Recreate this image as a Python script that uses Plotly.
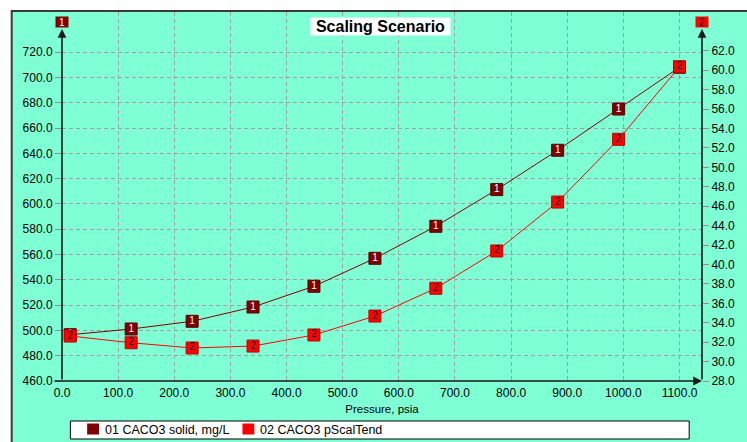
import plotly.graph_objects as go

# Pressure steps (psia) and the two computed series
pressure = [14.7, 123.2, 231.8, 340.3, 448.8, 557.4, 665.9, 774.4, 882.9, 991.5, 1100.0]
caco3_solid = [496.6, 501.1, 507.2, 518.5, 534.9, 557.0, 582.3, 611.3, 642.4, 675.0, 708.0]
caco3_pscaltend = [32.63, 31.94, 31.40, 31.60, 32.74, 34.69, 37.55, 41.39, 46.43, 52.89, 60.37]

series_names = ["01 CACO3 solid, mg/L", "02 CACO3 pScalTend"]
x_ticks = [0, 100, 200, 300, 400, 500, 600, 700, 800, 900, 1000, 1100]
y1_ticks = [460, 480, 500, 520, 540, 560, 580, 600, 620, 640, 660, 680, 700, 720]
y2_ticks = [28, 30, 32, 34, 36, 38, 40, 42, 44, 46, 48, 50, 52, 54, 56, 58, 60, 62]

W, H = 747, 442
ML, MR, MT, MB = 62, 36, 12, 61
PW, PH = W - ML - MR, H - MT - MB

X_RANGE = [0, 1140]
Y1_RANGE = [460, 460 + PH / 1.265]
Y2_RANGE = [28, 28 + PH / 9.71]

BG = "#7FFFD4"
GRID = "#A89CA2"
TICK = "#9A8890"
DARK_RED = "#800000"
RED = "#FF0000"
FONT = "Liberation Sans, Arial, sans-serif"


def px(x):
    return (x - ML) / PW


def py(y):
    return (H - MB - y) / PH


fig = go.Figure()

fig.add_trace(go.Scatter(
    x=pressure, y=caco3_solid, name=series_names[0], yaxis="y",
    mode="lines+markers+text", text=["1"] * len(pressure),
    textposition="middle center",
    textfont=dict(family=FONT, size=10, color="white"),
    line=dict(color=DARK_RED, width=1),
    marker=dict(symbol="square", size=12, color=DARK_RED,
                line=dict(color="#5A0000", width=1)),
    cliponaxis=False, showlegend=False,
))
fig.add_trace(go.Scatter(
    x=pressure, y=caco3_pscaltend, name=series_names[1], yaxis="y2",
    mode="lines+markers+text", text=["2"] * len(pressure),
    textposition="middle center",
    textfont=dict(family=FONT, size=10, color="black"),
    line=dict(color=RED, width=1),
    marker=dict(symbol="square", size=12, color=RED,
                line=dict(color="#C00000", width=1)),
    cliponaxis=False, showlegend=False,
))

shapes = [
    # framed chart panel
    dict(type="rect", xref="paper", yref="paper", layer="below",
         x0=px(11), x1=px(W + 20), y0=py(11), y1=py(H + 20),
         fillcolor=BG, line=dict(color="#3A3A3A", width=2)),
    # legend box
    dict(type="rect", xref="paper", yref="paper",
         x0=px(70.5), x1=px(698), y0=py(421), y1=py(439),
         fillcolor="white", line=dict(color="black", width=1)),
    dict(type="rect", xref="paper", yref="paper",
         x0=px(87.5), x1=px(99.5), y0=py(423.5), y1=py(434.5),
         fillcolor=DARK_RED, line=dict(width=0)),
    dict(type="rect", xref="paper", yref="paper",
         x0=px(245), x1=px(257), y0=py(423.5), y1=py(434.5),
         fillcolor=RED, line=dict(width=0)),
]

annotations = [
    # title
    dict(text="<b>Scaling Scenario</b>", xref="paper", yref="paper",
         x=px(384.5), y=py(26.3), xanchor="center", yanchor="middle",
         showarrow=False, bgcolor="white", width=139, height=17,
         borderpad=0, font=dict(family=FONT, size=16, color="black")),
    # legend labels
    dict(text=series_names[0], xref="paper", yref="paper", x=px(103.5), y=py(429.5),
         xanchor="left", yanchor="middle", showarrow=False,
         font=dict(family=FONT, size=12.5, color="black")),
    dict(text=series_names[1], xref="paper", yref="paper", x=px(260.5), y=py(429.5),
         xanchor="left", yanchor="middle", showarrow=False,
         font=dict(family=FONT, size=12.5, color="black")),
    # axis lines with arrowheads
    dict(text="", xref="paper", yref="paper", x=0, y=py(29), ax=0, ay=H - MB - 29,
         showarrow=True, arrowhead=2, arrowsize=1.1, arrowwidth=1.6, arrowcolor="#1A1A1A",
         standoff=0, startstandoff=0),
    dict(text="", xref="paper", yref="paper", x=1, y=py(29), ax=0, ay=H - MB - 29,
         showarrow=True, arrowhead=2, arrowsize=1.1, arrowwidth=1.6, arrowcolor="#1A1A1A",
         standoff=0, startstandoff=0),
    dict(text="", xref="paper", yref="paper", x=1, y=0, ax=-PW, ay=0,
         showarrow=True, arrowhead=2, arrowsize=1.1, arrowwidth=1.6, arrowcolor="#1A1A1A",
         standoff=0, startstandoff=0),
    # axis badges
    dict(text="1", xref="paper", yref="paper", x=px(61.7), y=py(22),
         xanchor="center", yanchor="middle", showarrow=False,
         bgcolor=DARK_RED, width=12, height=10, borderpad=0,
         font=dict(family=FONT, size=10, color="white")),
    dict(text="2", xref="paper", yref="paper", x=px(711), y=py(22),
         xanchor="center", yanchor="middle", showarrow=False,
         bgcolor=RED, width=12, height=10, borderpad=0,
         font=dict(family=FONT, size=10, color="black")),
]

fig.update_layout(
    width=W, height=H,
    margin=dict(l=ML, r=MR, t=MT, b=MB, pad=0),
    paper_bgcolor="white", plot_bgcolor=BG,
    font=dict(family=FONT, size=12, color="black"),
    shapes=shapes, annotations=annotations,
    xaxis=dict(
        range=X_RANGE, tickvals=x_ticks, ticktext=[f"{v:.1f}" for v in x_ticks],
        showgrid=True, gridcolor=GRID, griddash="4px,3px", gridwidth=1,
        showline=False, zeroline=False, ticks="outside", ticklen=1, tickcolor=BG,
        tickfont=dict(family=FONT, size=12, color="black"),
        title=dict(text="Pressure, psia", standoff=5,
                   font=dict(family=FONT, size=11.5, color="black")),
    ),
    yaxis=dict(
        range=Y1_RANGE, tickvals=y1_ticks, ticktext=[f"{v:.1f}" for v in y1_ticks],
        showgrid=True, gridcolor=GRID, griddash="4px,3px", gridwidth=1,
        showline=False, zeroline=False, ticks="outside", ticklen=6, tickcolor=TICK,
        tickfont=dict(family=FONT, size=12, color="black"),
    ),
    yaxis2=dict(
        range=Y2_RANGE, tickvals=y2_ticks, ticktext=[f"{v:.1f}" for v in y2_ticks],
        overlaying="y", side="right", showgrid=False,
        showline=False, zeroline=False, ticks="outside", ticklen=6, tickcolor=TICK,
        tickfont=dict(family=FONT, size=12, color="black"),
    ),
)

fig.write_html("out.html")
